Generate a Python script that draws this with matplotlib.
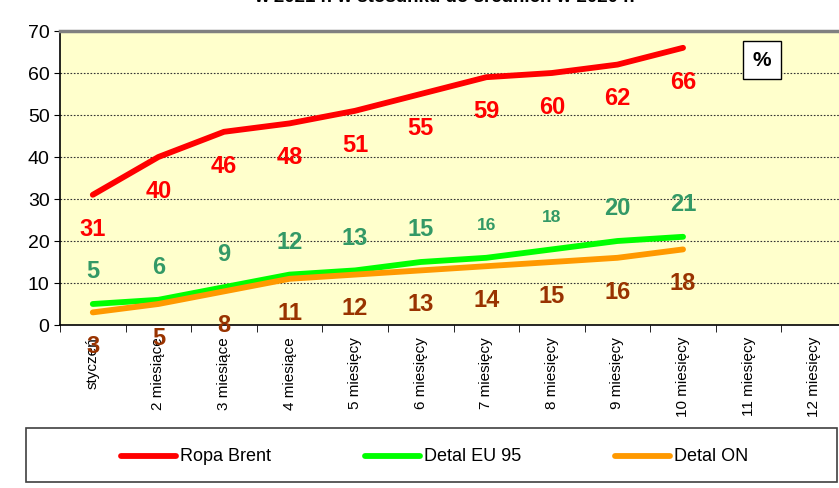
import matplotlib.pyplot as plt
from matplotlib.lines import Line2D
from matplotlib.patches import Rectangle

plt.rcParams['font.family'] = ['Liberation Sans', 'DejaVu Sans']

months = ['styczeń', '2 miesiące', '3 miesiące', '4 miesiące', '5 miesięcy',
          '6 miesięcy', '7 miesięcy', '8 miesięcy', '9 miesięcy',
          '10 miesięcy', '11 miesięcy', '12 miesięcy']
brent = [31, 40, 46, 48, 51, 55, 59, 60, 62, 66]
eu95 = [5, 6, 9, 12, 13, 15, 16, 18, 20, 21]
on = [3, 5, 8, 11, 12, 13, 14, 15, 16, 18]
names = ['Ropa Brent', 'Detal EU 95', 'Detal ON']
colors = ['#FF0000', '#00FF00', '#FF9900']

W, H = 839, 489
fig = plt.figure(figsize=(W / 100, H / 100), dpi=100)
ax = fig.add_axes([60 / W, 1 - 326 / H, 787 / W, 294 / H])
ax.set_facecolor('#FFFFCC')

x = list(range(len(brent)))
for ser, c in zip([brent, eu95, on], colors):
    ax.plot(x, ser, color=c, lw=4.2, solid_capstyle='round')

# data labels
for i, v in enumerate(brent):
    ax.annotate(str(v), (i, v), xytext=(0, -24), textcoords='offset points',
                ha='center', va='center', color='#FF0000', fontsize=17, fontweight='bold')
for i, v in enumerate(eu95):
    fs = 12.5 if v in (16, 18) else 17
    ax.annotate(str(v), (i, v), xytext=(0, 24), textcoords='offset points',
                ha='center', va='center', color='#339966', fontsize=fs, fontweight='bold')
for i, v in enumerate(on):
    ax.annotate(str(v), (i, v), xytext=(0, -24), textcoords='offset points',
                ha='center', va='center', color='#993300', fontsize=17, fontweight='bold',
                annotation_clip=False)

ax.set_xlim(-0.5, 11.5)
ax.set_ylim(0, 70)
ax.set_yticks(range(0, 71, 10))
ax.tick_params(axis='y', labelsize=14, length=4, direction='out')
ax.set_xticks(range(12))
ax.set_xticklabels(months, rotation=90, fontsize=11)
ax.tick_params(axis='x', which='major', length=0, pad=8)
ax.set_xticks([i - 0.5 for i in range(13)], minor=True)
ax.tick_params(axis='x', which='minor', length=5, direction='out')

for y in range(10, 70, 10):
    ax.axhline(y, color='#333333', lw=0.8, ls=(0, (1.5, 1.5)), zorder=0)

ax.spines['left'].set_color('black')
ax.spines['bottom'].set_color('black')
ax.spines['top'].set_color('#808080')
ax.spines['right'].set_color('#808080')
ax.spines['top'].set_linewidth(2.5)
ax.spines['right'].set_linewidth(2.5)
ax.spines['left'].set_linewidth(1.2)
ax.spines['bottom'].set_linewidth(1.2)

ax.text((762 - 60) / 787, 1 - (61 - 32) / 294, '%', transform=ax.transAxes,
        ha='center', va='center', fontsize=15, fontweight='bold',
        bbox=dict(boxstyle='square,pad=0.45', fc='white', ec='black', lw=1))

# title, only its lower part fits in the picture
fig.text(0.53, 1.006, 'w 2021 r. w stosunku do średnich w 2020 r.', ha='center', va='center',
         fontsize=13.5, fontweight='bold')

# legend box drawn by hand
fig.add_artist(Rectangle((26 / W, 1 - 483 / H), 811 / W, 54 / H, transform=fig.transFigure,
                         fc='white', ec='#404040', lw=1.2))
starts = [121, 365, 615]
ly = 1 - 457 / H
for s, c, n in zip(starts, colors, names):
    fig.add_artist(Line2D([s / W, (s + 55) / W], [ly, ly], transform=fig.transFigure,
                          color=c, lw=4.2, solid_capstyle='round'))
    fig.text((s + 59) / W, ly, n, ha='left', va='center', fontsize=13)

fig.savefig('out.png', dpi=100)
